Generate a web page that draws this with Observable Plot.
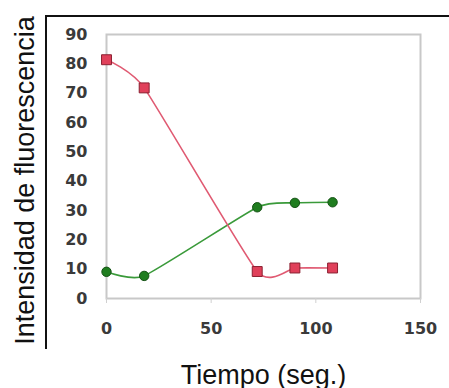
<!DOCTYPE html>
<html><head><meta charset="utf-8">
<script src="https://cdn.jsdelivr.net/npm/d3@7"></script>
<script src="https://cdn.jsdelivr.net/npm/@observablehq/plot@0.6"></script>
<style>
body{margin:0;background:#fff;}
#wrap{position:relative;width:449px;height:388px;}
#border{position:absolute;left:45px;top:15px;width:404px;height:334px;border-left:2px solid #111;border-top:2px solid #111;box-sizing:border-box;pointer-events:none;}
</style></head>
<body><div id="wrap"><div id="border"></div></div>
<script>
const tiempo = [0, 18, 72, 90, 108];
const serieRoja = [81.4, 71.8, 9.2, 10.4, 10.4];
const serieVerde = [9.1, 7.7, 31.1, 32.6, 32.8];
const xTicks = [0, 50, 100, 150];
const yTicks = [0, 10, 20, 30, 40, 50, 60, 70, 80, 90];
const xTitle = "Tiempo (seg.)";
const yTitle = "Intensidad de fluorescencia";

const roja = tiempo.map((t, i) => ({t, v: serieRoja[i]}));
const verde = tiempo.map((t, i) => ({t, v: serieVerde[i]}));

const chart = Plot.plot({
  width: 449, height: 388,
  marginLeft: 106, marginRight: 29, marginTop: 34, marginBottom: 90,
  x: {domain: [0, 150]},
  y: {domain: [0, 90]},
  style: {background: "transparent", fontFamily: "DejaVu Sans", overflow: "visible"},
  marks: [
    Plot.frame({stroke: "#c8c8c8", strokeWidth: 2}),
    Plot.axisX({ticks: xTicks, tickSize: 5, stroke: "#d0d0d0", tickPadding: 19, fontSize: 16, fontWeight: "bold", fill: "#3a3a3a", label: null}),
    Plot.axisY({ticks: yTicks, tickSize: 0, tickPadding: 19, fontSize: 16, fontWeight: "bold", fill: "#3a3a3a", label: null}),
    Plot.text([xTitle], {text: d => d, frameAnchor: "bottom", dy: 85, lineAnchor: "bottom", fontSize: 27, fontFamily: "Liberation Sans", fill: "#111"}),
    Plot.text([yTitle], {text: d => d, frameAnchor: "left", textAnchor: "middle", rotate: -90, dx: -92, dy: 14, lineAnchor: "top", fontSize: 27, fontFamily: "Liberation Sans", fill: "#111"}),
    Plot.line(verde, {x: "t", y: "v", curve: "cardinal", tension: 0.5, stroke: "#3a9a3a", strokeWidth: 1.6}),
    Plot.line(roja, {x: "t", y: "v", curve: "cardinal", tension: 0.5, stroke: "#e05a72", strokeWidth: 1.6}),
    Plot.dot(verde, {x: "t", y: "v", r: 4.7, fill: "#1f7d1f", stroke: "#145214", strokeWidth: 1}),
    Plot.dot(roja, {x: "t", y: "v", symbol: "square", r: 5.6, fill: "#e0405a", stroke: "#8a1f30", strokeWidth: 1})
  ]
});
document.getElementById("wrap").prepend(chart);
</script>
</body></html>
